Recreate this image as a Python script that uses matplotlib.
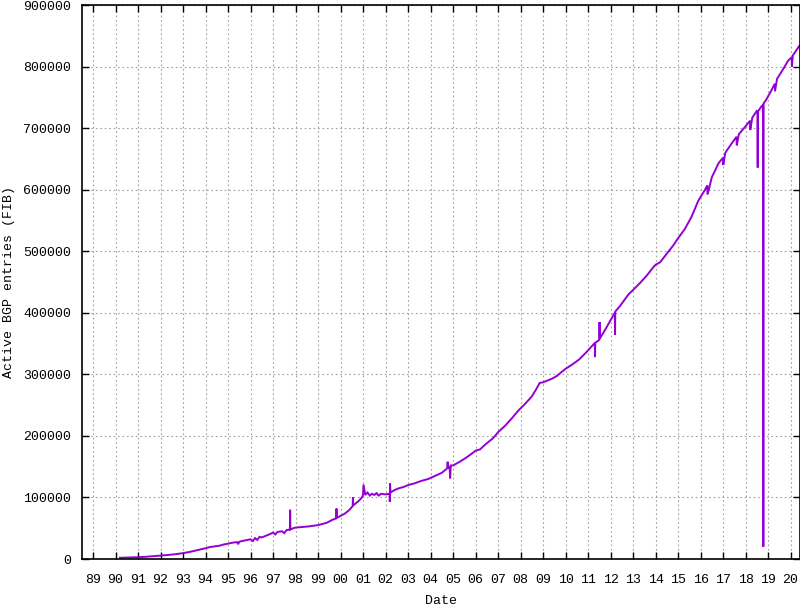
import matplotlib
matplotlib.use("Agg")
import matplotlib.pyplot as plt

# Date as decimal year, FIB entries
dates = [
    1990.20, 1990.50, 1990.80, 1991.00, 1991.30, 1991.60, 1992.00, 1992.30, 1992.60,
    1993.00, 1993.30, 1993.60, 1994.00, 1994.20, 1994.40, 1994.60, 1994.80, 1995.00,
    1995.20, 1995.40, 1995.45, 1995.50, 1995.60, 1995.80, 1996.00, 1996.10, 1996.20,
    1996.30, 1996.40, 1996.50, 1996.70, 1996.90, 1997.00, 1997.10, 1997.20, 1997.40,
    1997.50, 1997.60, 1997.75, 1997.76, 1997.77, 1997.90, 1998.00, 1998.30, 1998.60,
    1999.00, 1999.20, 1999.40, 1999.60, 1999.80, 1999.82, 1999.84, 2000.00, 2000.20,
    2000.40, 2000.54, 2000.55, 2000.56, 2000.80, 2000.95, 2001.00, 2001.02, 2001.10,
    2001.20, 2001.30, 2001.40, 2001.50, 2001.60, 2001.70, 2001.80, 2002.00, 2002.18,
    2002.19, 2002.20, 2002.22, 2002.40, 2002.60, 2002.80, 2003.00, 2003.30, 2003.60,
    2003.90, 2004.20, 2004.50, 2004.70, 2004.75, 2004.76, 2004.77, 2004.85, 2004.87,
    2004.90, 2005.00, 2005.30, 2005.60, 2005.90, 2006.00, 2006.20, 2006.40, 2006.60,
    2006.80, 2007.00, 2007.30, 2007.60, 2007.90, 2008.20, 2008.50, 2008.70, 2008.85,
    2009.00, 2009.20, 2009.40, 2009.60, 2009.80, 2010.00, 2010.30, 2010.60, 2010.90,
    2011.10, 2011.30, 2011.31, 2011.32, 2011.50, 2011.51, 2011.52, 2011.80, 2012.00,
    2012.19, 2012.20, 2012.21, 2012.40, 2012.60, 2012.80, 2013.00, 2013.30, 2013.60,
    2013.90, 2014.00, 2014.20, 2014.50, 2014.80, 2015.00, 2015.30, 2015.60, 2015.90,
    2016.20, 2016.30, 2016.31, 2016.50, 2016.80, 2017.00, 2017.01, 2017.10, 2017.40,
    2017.60, 2017.61, 2017.70, 2018.00, 2018.20, 2018.21, 2018.30, 2018.50, 2018.53,
    2018.54, 2018.55, 2018.70, 2018.78, 2018.79, 2018.80, 2018.90, 2019.10, 2019.30,
    2019.31, 2019.40, 2019.64, 2019.90, 2020.05, 2020.06, 2020.10, 2020.40,
]
entries = [
    2000, 2300, 2700, 3000, 3500, 4300, 5500, 6500, 7500,
    9500, 11500, 14000, 17500, 19500, 20500, 21500, 23500, 25000,
    26500, 27500, 24000, 28000, 29000, 30500, 32000, 29000, 34000,
    31000, 36000, 35000, 38000, 41000, 43000, 40000, 44000, 45000,
    42000, 47000, 48000, 80000, 48000, 50000, 51000, 52000, 53000,
    55000, 57000, 59000, 63000, 66000, 82000, 67000, 70000, 74000,
    80000, 86000, 100000, 87000, 94000, 100000, 104000, 121000, 104000,
    108000, 103000, 106000, 104000, 107000, 103000, 106000, 105000, 106000,
    93000, 123000, 108000, 112000, 115000, 117000, 120000, 123000, 127000,
    130000, 135000, 140000, 146000, 148000, 158000, 147000, 150000, 131000,
    152000, 152000, 158000, 165000, 173000, 176000, 178000, 185000, 191000,
    197000, 206000, 216000, 228000, 241000, 252000, 264000, 276000, 286000,
    287000, 290000, 293000, 297000, 303000, 309000, 316000, 324000, 335000,
    343000, 351000, 328000, 351000, 356000, 385000, 358000, 375000, 388000,
    400000, 364000, 402000, 410000, 420000, 430000, 437000, 448000, 460000,
    474000, 478000, 482000, 496000, 510000, 521000, 536000, 556000, 582000,
    600000, 607000, 592000, 620000, 643000, 652000, 640000, 660000, 676000,
    686000, 672000, 690000, 703000, 712000, 697000, 717000, 728000, 727000,
    636000, 727000, 735000, 738000, 20000, 740000, 745000, 758000, 772000,
    760000, 780000, 794000, 810000, 815000, 800000, 818000, 834000,
]

year_ticks = list(range(1989, 2021))
year_labels = ["%02d" % (y % 100) for y in year_ticks]
y_ticks = list(range(0, 900001, 100000))
y_labels = [str(v) for v in y_ticks]

font = "Liberation Mono"
fs = 9.5

fig = plt.figure(figsize=(8.0, 6.05), dpi=100)
ax = fig.add_axes([82 / 800, 46 / 605, 718 / 800, 554 / 605])

ax.plot(dates, entries, color="#9400d3", linewidth=1.4, solid_joinstyle="miter")

ax.set_xlim(1988.51, 2020.42)
ax.set_ylim(0, 900000)
ax.set_xticks(year_ticks)
ax.set_xticklabels(year_labels, fontfamily=font, fontsize=fs)
ax.set_yticks(y_ticks)
ax.set_yticklabels(y_labels, fontfamily=font, fontsize=fs)
ax.tick_params(direction="in", length=5, width=1.0, top=True, right=True,
               colors="black", pad=8)
ax.tick_params(axis="x", pad=11)

ax.grid(True, color="#a0a0a0", linestyle=(0, (1.5, 2.5)), linewidth=0.8)
ax.set_axisbelow(True)
for s in ax.spines.values():
    s.set_linewidth(1.2)
    s.set_color("black")

ax.set_xlabel("Date", fontfamily=font, fontsize=fs, labelpad=6)
ax.set_ylabel("Active BGP entries (FIB)", fontfamily=font, fontsize=fs, labelpad=6)

fig.savefig("out.png", dpi=100)
